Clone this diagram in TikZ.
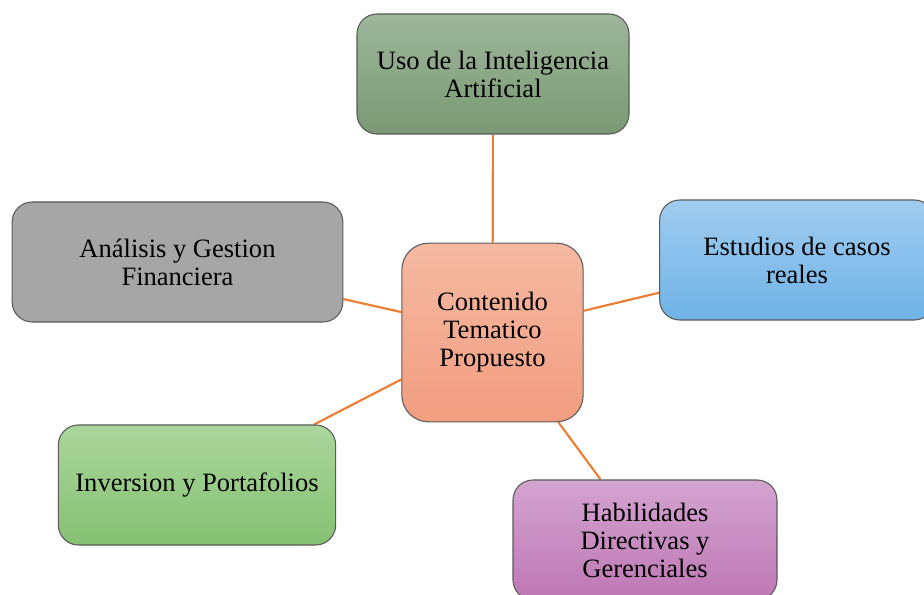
\documentclass[tikz,border=0pt]{standalone}
\usepackage{fontspec}
\setmainfont{Liberation Serif}
\usetikzlibrary{backgrounds}
\definecolor{conn}{HTML}{ED7D31}
\definecolor{edge}{HTML}{5A5A5A}
\tikzset{
  box/.style={draw=edge, line width=0.8pt, rounded corners=15pt, align=center,
    font=\fontsize{19.9pt}{21pt}\selectfont, inner sep=0pt},
  sat/.style={box, minimum width=204pt, minimum height=90pt},
  link/.style={draw=conn, line width=1.6pt}
}
\begin{document}
\begin{tikzpicture}[x=0.75pt,y=-0.75pt]
\useasboundingbox (0,0) rectangle (924,595);
\node[sat, top color={rgb,255:red,158;green,183;blue,155}, bottom color={rgb,255:red,121;green,153;blue,115}] (ai) at (493,74) {Uso de la Inteligencia\\Artificial};
\node[box, minimum width=136pt, minimum height=134pt, rounded corners=20pt, top color={rgb,255:red,245;green,185;blue,162}, bottom color={rgb,255:red,242;green,157;blue,128}] (c) at (492.5,332.5) {Contenido\\Tematico\\Propuesto};
\node[sat, minimum width=206pt, top color={rgb,255:red,160;green,204;blue,240}, bottom color={rgb,255:red,111;green,179;blue,230}] (est) at (797,260) {Estudios de casos\\reales};
\node[sat, minimum width=248pt, fill={rgb,255:red,166;green,166;blue,166}] (an) at (177.5,262) {Análisis y Gestion\\Financiera};
\node[sat, minimum width=208pt, top color={rgb,255:red,170;green,214;blue,156}, bottom color={rgb,255:red,133;green,193;blue,114}] (inv) at (197,485) {\raisebox{-3pt}{Inversion y Portafolios}};
\node[sat, minimum width=198pt, top color={rgb,255:red,211;green,164;blue,208}, bottom color={rgb,255:red,190;green,119;blue,180}] (hab) at (645,540) {Habilidades\\Directivas y\\Gerenciales};
\begin{scope}[on background layer]
\draw[link] (c) -- (ai);
\draw[link] (c) -- (est);
\draw[link] (c) -- (an);
\draw[link] (c) -- (inv);
\draw[link] (c) -- (hab);
\end{scope}
\end{tikzpicture}
\end{document}
